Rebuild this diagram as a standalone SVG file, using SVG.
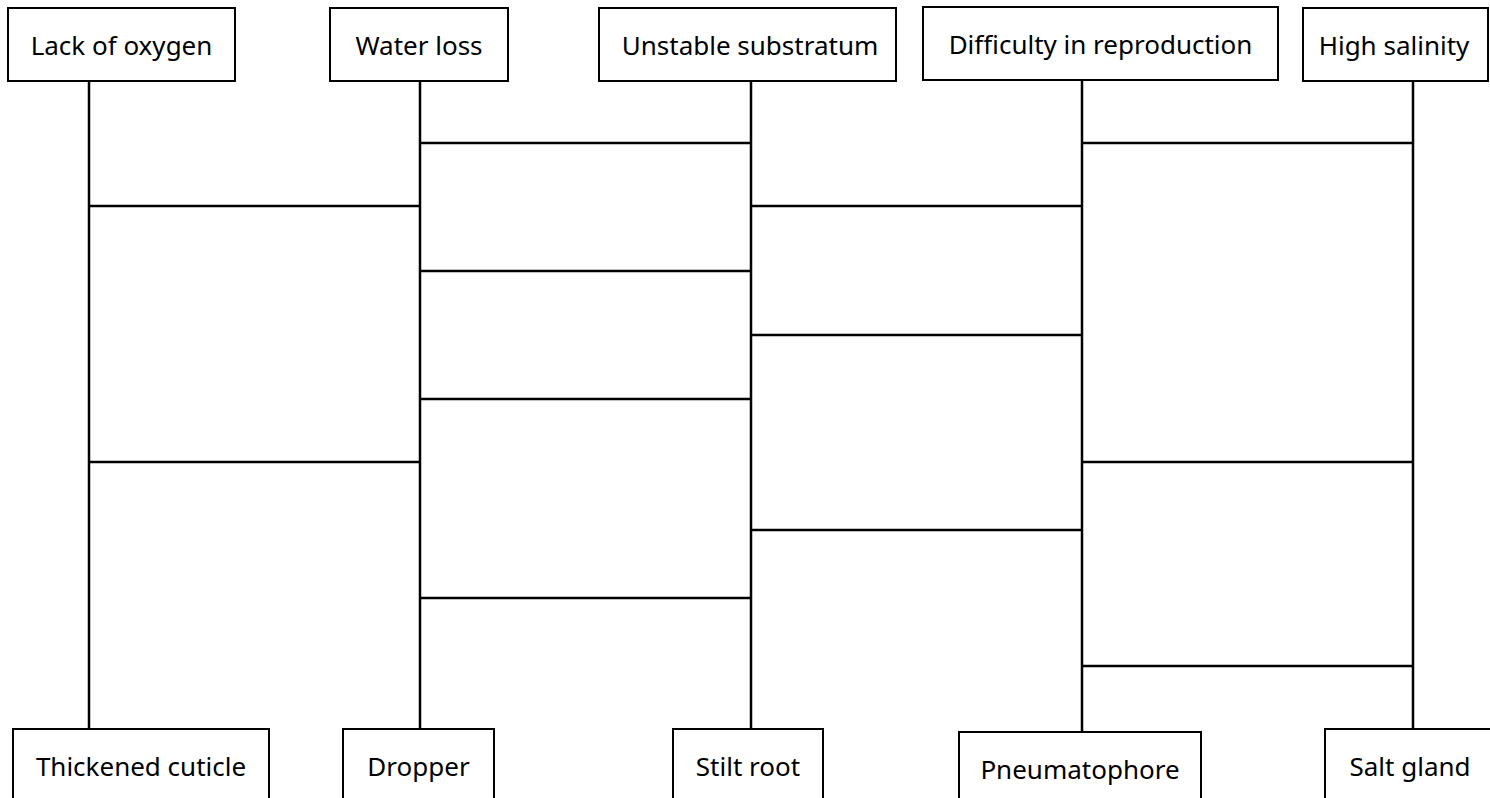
<svg xmlns="http://www.w3.org/2000/svg" width="1490" height="798" viewBox="0 0 1490 798">
<style>
.box{fill:#fff;stroke:#000;stroke-width:2}
.lbl{font-family:"Noto Sans","Open Sans","DejaVu Sans",sans-serif;font-size:26px;fill:#000;text-anchor:middle}
.ln{stroke:#000;stroke-width:2.5;fill:none}
</style>
<rect width="1490" height="798" fill="#fff"/>
<g id="connectors">
<line class="ln" x1="89" y1="81" x2="89" y2="729"/>
<line class="ln" x1="420" y1="81" x2="420" y2="729"/>
<line class="ln" x1="751" y1="81" x2="751" y2="729"/>
<line class="ln" x1="1082" y1="80" x2="1082" y2="732"/>
<line class="ln" x1="1413" y1="81" x2="1413" y2="729"/>
<line class="ln" x1="89" y1="206" x2="420" y2="206"/>
<line class="ln" x1="89" y1="462" x2="420" y2="462"/>
<line class="ln" x1="420" y1="143" x2="751" y2="143"/>
<line class="ln" x1="420" y1="271" x2="751" y2="271"/>
<line class="ln" x1="420" y1="399" x2="751" y2="399"/>
<line class="ln" x1="420" y1="598" x2="751" y2="598"/>
<line class="ln" x1="751" y1="206" x2="1082" y2="206"/>
<line class="ln" x1="751" y1="335" x2="1082" y2="335"/>
<line class="ln" x1="751" y1="530" x2="1082" y2="530"/>
<line class="ln" x1="1082" y1="143" x2="1413" y2="143"/>
<line class="ln" x1="1082" y1="462" x2="1413" y2="462"/>
<line class="ln" x1="1082" y1="666" x2="1413" y2="666"/>
</g>
<g id="lack-of-oxygen"><rect class="box" x="8" y="8" width="227" height="73"/><text class="lbl" x="121.5" y="55">Lack of oxygen</text></g>
<g id="water-loss"><rect class="box" x="330" y="8" width="178" height="73"/><text class="lbl" x="419" y="55">Water loss</text></g>
<g id="unstable-substratum"><rect class="box" x="599" y="8" width="297" height="73"/><text class="lbl" x="750" y="55">Unstable substratum</text></g>
<g id="difficulty-in-reproduction"><rect class="box" x="923" y="7" width="355" height="73"/><text class="lbl" x="1100.5" y="54">Difficulty in reproduction</text></g>
<g id="high-salinity"><rect class="box" x="1303" y="8" width="185" height="73"/><text class="lbl" x="1394" y="55">High salinity</text></g>
<g id="thickened-cuticle"><rect class="box" x="13" y="729" width="256" height="80"/><text class="lbl" x="141" y="776">Thickened cuticle</text></g>
<g id="dropper"><rect class="box" x="343" y="729" width="151" height="80"/><text class="lbl" x="418.5" y="776">Dropper</text></g>
<g id="stilt-root"><rect class="box" x="673" y="729" width="150" height="80"/><text class="lbl" x="748" y="776">Stilt root</text></g>
<g id="pneumatophore"><rect class="box" x="959" y="732" width="242" height="80"/><text class="lbl" x="1080" y="779">Pneumatophore</text></g>
<g id="salt-gland"><rect class="box" x="1325" y="729" width="170" height="80"/><text class="lbl" x="1410" y="776">Salt gland</text></g>
</svg>
